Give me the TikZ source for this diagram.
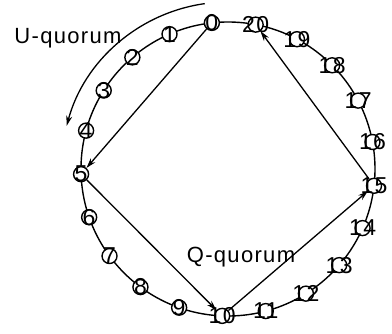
\documentclass[tikz,border=0pt]{standalone}
\usepackage{fontspec}
\setmainfont{Liberation Sans}[LetterSpace=6]
\usetikzlibrary{arrows.meta}
\tikzset{
  member/.style={circle,draw,line width=1.4pt,minimum size=15pt,inner sep=0pt,fill=white},
  quorumarrow/.style={-{Stealth[length=10pt,width=6pt]},line width=1.3pt}
}
\begin{document}
\begin{tikzpicture}[x=1pt,y=1pt,font=\fontsize{22}{24}\selectfont]
\useasboundingbox (-228,-164) rectangle (164,169);
% ring of members
\draw[line width=1.4pt] (0,0) circle (147);
\foreach \k in {0,...,20}
  \node[member,label={[font=\fontsize{23}{24}\selectfont]center:\k}] (n\k) at ({96.3+\k*360/21}:147) {};
% quorum path
\draw[quorumarrow] (n0) -- (n5);
\draw[quorumarrow] (n5) -- (n10);
\draw[quorumarrow] (n10) -- (n15);
\draw[quorumarrow] (n15) -- (n20);
% outer arrow
\coordinate (ustart) at (98:167);
\draw[quorumarrow] (ustart) arc (98:165:167);
\node (uq) at (-160,131) {U-quorum};
\node (qq) at (13,-88) {Q-quorum};
\end{tikzpicture}
\end{document}
